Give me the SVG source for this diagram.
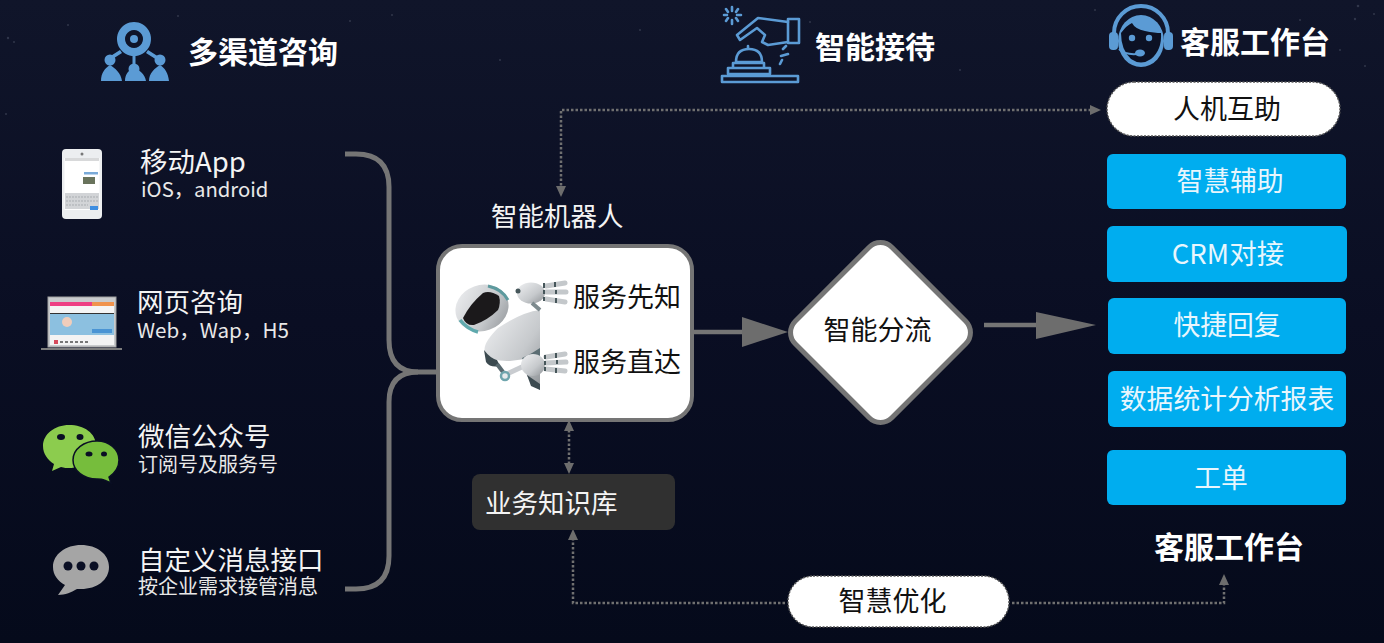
<svg xmlns="http://www.w3.org/2000/svg" width="1384" height="643" viewBox="0 0 1384 643">
<style>
text{font-family:"Noto Sans CJK SC","Noto Sans",sans-serif;fill:#fff}
.h{font-size:30px;font-weight:700}
.t{font-size:26.5px;font-weight:400;fill:#f4f4f4}
.s{font-size:20px;fill:#e8e8e8}
.k{fill:#111;font-size:27px;text-anchor:middle}
.b{fill:#00adef}
.bt{font-size:26.8px;text-anchor:middle;fill:#e8f6fd}
.ic{fill:#5b9bd5}
.il{fill:none;stroke:#5b9bd5;stroke-width:2.6;stroke-linejoin:round;stroke-linecap:round}
.dot{fill:none;stroke:#707070;stroke-width:2.5;stroke-dasharray:2.5 2}
.gr{fill:#6d6d6d}
.br{fill:none;stroke:#757575;stroke-width:5}
.pill{fill:#fff;stroke:#555;stroke-width:1.5;stroke-dasharray:2 1.5}
.fg{stroke:#c4c8cb;stroke-width:5;stroke-linecap:round;fill:none}
.fj{stroke:#46565a;stroke-width:2;fill:none}
</style>
<defs>
<linearGradient id="bg" x1="0" y1="0" x2="0" y2="1"><stop offset="0" stop-color="#10152a"/><stop offset=".5" stop-color="#0a0e23"/><stop offset="1" stop-color="#050a1b"/></linearGradient>
<linearGradient id="metal" x1="0" y1="0" x2="1" y2="1"><stop offset="0" stop-color="#f0f1f3"/><stop offset=".6" stop-color="#c6c9cc"/><stop offset="1" stop-color="#8e9296"/></linearGradient>
</defs>
<rect width="1384" height="643" fill="url(#bg)"/>
<g id="stars" fill="#30364a">
<circle cx="8" cy="38" r="1.2"/><circle cx="14" cy="42" r="1"/><circle cx="178" cy="16" r="1"/><circle cx="68" cy="25" r="1"/><circle cx="6" cy="114" r="1"/><circle cx="350" cy="21" r="1"/><circle cx="392" cy="15" r="1"/><circle cx="810" cy="22" r="1"/><circle cx="1358" cy="6" r="1.3"/><circle cx="1355" cy="19" r="1.2"/><circle cx="1374" cy="14" r="1"/><circle cx="1340" cy="50" r="1"/><circle cx="1365" cy="66" r="1"/><circle cx="1300" cy="20" r="1"/><circle cx="1095" cy="10" r="1"/><circle cx="960" cy="70" r="1"/><circle cx="500" cy="60" r="1"/><circle cx="640" cy="30" r="1"/>
</g>

<g id="connectors">
<path class="br" d="M345 154H356Q389 154 389 187V340Q389 372 418 372H437"/>
<path class="br" d="M345 589H356Q389 589 389 556V402Q389 372 418 372"/>
<path d="M693 332H745" stroke="#757575" stroke-width="4.5" fill="none"/>
<path class="gr" d="M742 317L788 332L742 347z"/>
<path d="M984 325H1045" stroke="#757575" stroke-width="4.5" fill="none"/>
<path class="gr" d="M1036 312L1096 325L1036 339z"/>
<path class="dot" d="M561 190V110H1092"/>
<path class="gr" d="M556 186H566L561 197z"/>
<path class="gr" d="M1090 105L1101 110L1090 115z"/>
<path class="dot" d="M569 430V464"/>
<path class="gr" d="M564 431L569 420L574 431z"/>
<path class="gr" d="M564 463H574L569 474z"/>
<path class="dot" d="M573 538V603H786"/>
<path class="gr" d="M568 540L573 529L578 540z"/>
<path class="dot" d="M1012 603H1224V585"/>
<path class="gr" d="M1219 585L1224 574L1229 585z"/>
</g>

<g id="title-channels">
<g class="ic">
<path fill-rule="evenodd" d="M134 22a17 17 0 1 1-.01 0zM134 30a9 9 0 1 0 .01 0z"/>
<circle cx="134" cy="39" r="4"/>
<path d="M132.500 55h3v12h-3zM120 50l2 3-11 7-2-3zM148 50l-2 3 11 7 2-3z"/>
<circle cx="110" cy="60" r="5.500"/><circle cx="134" cy="69" r="5.500"/><circle cx="160" cy="60" r="5.500"/>
<path d="M101 81C101 73 105 68 110 65C115 68 121 73 122 81zM125 81C125 74 129 70 134 67C139 70 145 74 146 81zM149 81C149 73 155 68 160 65C165 68 168 73 169 81z"/>
</g>
<text class="h" x="188" y="63">多渠道咨询</text>
</g>

<g id="title-reception">
<g class="il">
<path d="M788 22L758 18L737 35L740 40L757 28L765 35L762 42L768 45L788 42"/>
<rect x="788" y="19" width="11" height="24"/>
<path d="M736 62Q736 49 749 49Q762 49 762 62z"/>
<path d="M733 63H764V68H733zM728 68H770V74H728z"/>
<rect x="722" y="76" width="76" height="6"/>
<path d="M748 46V48M783 49L786 46M781 56L788 54M780 64L782 60M732 7V11M732 20V24M724 15H727M737 15H741M726 9L728 12M738 9L736 12M726 21L728 18M738 21L736 18"/>
</g>
<text class="h" x="815" y="58">智能接待</text>
</g>

<g id="title-desk">
<path d="M1114 33A27 27 0 0 1 1168 33" fill="none" stroke="#5b9bd5" stroke-width="4"/>
<ellipse class="ic" cx="1141" cy="41" rx="23" ry="26"/>
<rect class="ic" x="1109" y="32" width="9" height="18" rx="4"/><rect class="ic" x="1164" y="32" width="9" height="18" rx="4"/>
<path d="M1121 33Q1127 25 1132 23Q1135 29 1145 31Q1155 33 1161 33Q1162 50 1151 59Q1141 66 1131 59Q1121 50 1121 33z" fill="#0c1124"/>
<circle class="ic" cx="1132" cy="38" r="3.200"/><circle class="ic" cx="1149" cy="38" r="3.200"/>
<path d="M1119 49Q1125 55 1137 54" fill="none" stroke="#5b9bd5" stroke-width="2"/>
<ellipse class="ic" cx="1140" cy="53" rx="5" ry="3.500"/>
<text class="h" x="1180" y="53">客服工作台</text>
</g>

<g id="channel-app">
<rect x="62" y="149" width="40" height="70" rx="4" fill="#eceef0"/>
<circle cx="82" cy="154" r="1.500" fill="#777"/>
<rect x="64.500" y="158" width="35" height="52" fill="#fff"/>
<rect x="65" y="158" width="34" height="3" fill="#d8d9da"/>
<rect x="84" y="172" width="14" height="2.500" fill="#7aaad8"/><rect x="83" y="177" width="12" height="7" fill="#69735c"/>
<rect x="65" y="193" width="34" height="16" fill="#d2d4d7"/>
<path d="M66 197H98M66 201H98M66 205H88" stroke="#a9adb1" stroke-width="1" stroke-dasharray="2 1"/>
<rect x="90" y="206" width="8" height="4" fill="#3d8de0"/>
<text class="t" x="140" y="172" style="font-size:27.500px">移动App</text>
<text class="s" x="141" y="197" style="font-size:20.300px">iOS，android</text>
</g>
<g id="channel-web">
<rect x="48" y="297" width="68" height="50" fill="#c9cbcd" stroke="#a0a0a0" stroke-width="1"/>
<rect x="50" y="302" width="64" height="4" fill="#ee3f84"/><rect x="92" y="302" width="22" height="4" fill="#f0934d"/>
<rect x="50" y="306" width="64" height="7" fill="#f5f5f5"/><rect x="50" y="313" width="64" height="1" fill="#333"/>
<rect x="50" y="314" width="64" height="21" fill="#8cc0e0"/>
<circle cx="67" cy="322" r="5" fill="#f0cdbb"/>
<rect x="92" y="329" width="20" height="4" fill="#4a94d4"/>
<rect x="50" y="335" width="64" height="10" fill="#f3f3f3"/>
<rect x="54" y="340" width="4" height="4" fill="#d64a5c"/><path d="M60 342H88" stroke="#777" stroke-width="2" stroke-dasharray="3 2"/>
<rect x="41" y="348" width="81" height="2" fill="#7d7d7d"/>
<text class="t" x="137" y="312">网页咨询</text>
<text class="s" x="137" y="338" style="font-size:20.600px">Web，Wap，H5</text>
</g>
<g id="channel-wechat">
<path d="M69 425c-14 0-26 9-26 21 0 8 5 14 11 18l-2 7 9-4c3 1 6 1 8 1 15 0 27-9 27-22s-12-21-27-21z" fill="#8ccc4e"/>
<path d="M97 441c-13 0-24 8-24 19s11 19 24 19c3 0 5 0 7 1l7 3-2-6c6-4 10-10 10-17 0-11-10-19-22-19z" fill="#76bd3c" stroke="#0a0f24" stroke-width="1.500"/>
<ellipse cx="61" cy="437" rx="4" ry="3" fill="#0a0f24"/><ellipse cx="80" cy="437" rx="3.500" ry="3" fill="#0a0f24"/>
<ellipse cx="89" cy="454" rx="3.500" ry="2.500" fill="#0a0f24"/><ellipse cx="104" cy="454" rx="3" ry="2.500" fill="#0a0f24"/>
<text class="t" x="138" y="446">微信公众号</text>
<text class="s" x="138" y="472">订阅号及服务号</text>
</g>
<g id="channel-custom">
<path d="M81 545c-15 0-28 9-28 22 0 8 5 14 12 18l-7 10c7 0 14-3 19-6 2 0 3 0 4 0 16 0 28-9 28-22s-12-22-28-22z" fill="#a5a5a5"/>
<circle cx="68" cy="566" r="4.500" fill="#0a0f24"/><circle cx="81" cy="566" r="4.500" fill="#0a0f24"/><circle cx="94" cy="566" r="4.500" fill="#0a0f24"/>
<text class="t" x="138" y="570">自定义消息接口</text>
<text class="s" x="138" y="594">按企业需求接管消息</text>
</g>

<g id="robot-title"><text class="t" x="491" y="226">智能机器人</text></g>
<g id="robot">
<rect x="438" y="246" width="254" height="174" rx="24" fill="#fff" stroke="#757575" stroke-width="4"/>
<path d="M540 310Q522 312 498 328Q482 344 485 352Q492 362 510 361L525 359L527 376L540 390z" fill="url(#metal)"/>
<path d="M484 350Q490 358 497 360L500 366Q490 368 486 362z" fill="#3c4a50"/>
<path d="M527 375L540 384V390L531 386z" fill="#3c4a50"/>
<path d="M522 358L532 353L540 348V362L528 368z" fill="#5b6d73"/>
<path d="M509 373L524 366" stroke="#c9ccd0" stroke-width="5" stroke-linecap="round"/>
<path d="M497 364L503 372" stroke="#5a6a70" stroke-width="4"/>
<circle cx="505" cy="376" r="4" fill="#e6eaec" stroke="#6fa5ad" stroke-width="2.500"/>
<ellipse cx="482" cy="308" rx="27" ry="23" fill="url(#metal)" transform="rotate(-20 482 308)"/>
<path d="M463 318Q470 304 483 293Q490 290 499 296Q501 303 498 310Q488 320 474 325Q466 326 463 318z" fill="#1b191b"/>
<path d="M460 320Q467 329 478 332" stroke="#5fa9ad" stroke-width="3.500" fill="none"/>
<path d="M488 286Q502 289 508 300" stroke="#5d9a9e" stroke-width="3" fill="none"/>
<ellipse cx="531" cy="293" rx="14" ry="10.500" fill="url(#metal)"/>
<circle cx="518" cy="291" r="2.500" fill="#46565a"/>
<path d="M532 303L540 310" stroke="#7d8a8e" stroke-width="4"/>
<ellipse cx="533" cy="365" rx="12" ry="11" fill="url(#metal)"/>
<path class="fg" d="M546 286L565 283M546 292L566 292M546 299L565 302"/>
<path class="fj" d="M544 283V288M544 290V294M544 297V301M555 282V287M556 290V294M556 298V303"/>
<path class="fg" d="M546 357L565 354M546 363L566 362M546 369L565 371"/>
<path class="fj" d="M545 355V359M545 361V365M545 367V371M556 353V358M557 360V364M556 368V373"/>
<text class="k" x="627" y="307">服务先知</text>
<text class="k" x="627" y="372">服务直达</text>
</g>

<g id="router">
<rect x="812.200" y="264.200" width="136.600" height="136.600" rx="16" fill="#fff" stroke="#757575" stroke-width="5" transform="rotate(45 880.500 332.500)"/>
<text class="k" x="877.500" y="340">智能分流</text>
</g>

<g id="kb">
<rect x="472" y="474" width="203" height="56" rx="8" fill="#303030"/>
<text class="t" x="485" y="513">业务知识库</text>
</g>

<g id="pill-optimize">
<rect x="788" y="576" width="221" height="51" rx="25" class="pill"/>
<text class="k" x="892.500" y="611">智慧优化</text>
</g>

<g id="pill-assist">
<rect x="1107" y="82" width="233" height="54" rx="27" class="pill"/>
<text class="k" x="1227" y="119">人机互助</text>
</g>

<g id="desk-smart"><rect class="b" x="1107" y="154" width="239" height="55" rx="6"/><text class="bt" x="1230" y="191">智慧辅助</text></g>
<g id="desk-crm"><rect class="b" x="1107" y="226" width="240" height="56" rx="6"/><text class="bt" x="1228" y="264" style="font-size:27.500px">CRM对接</text></g>
<g id="desk-quick"><rect class="b" x="1108" y="298" width="238" height="56" rx="6"/><text class="bt" x="1227" y="335">快捷回复</text></g>
<g id="desk-stats"><rect class="b" x="1108" y="371" width="238" height="56" rx="6"/><text class="bt" x="1227" y="409">数据统计分析报表</text></g>
<g id="desk-ticket"><rect class="b" x="1107" y="450" width="239" height="55" rx="6"/><text class="bt" x="1221" y="488">工单</text></g>
<g id="desk-label"><text class="h" x="1229" y="558" text-anchor="middle">客服工作台</text></g>
</svg>
